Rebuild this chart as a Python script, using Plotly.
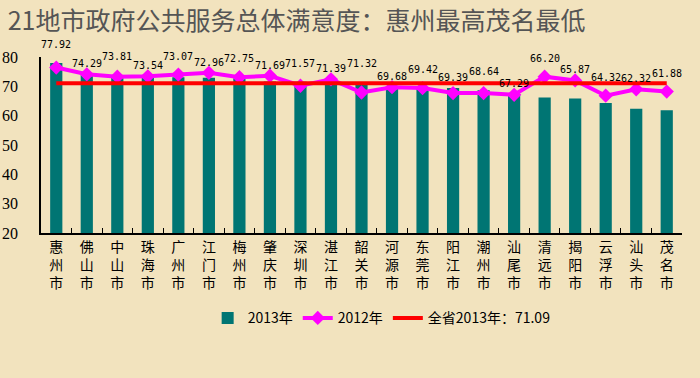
import plotly.graph_objects as go

cities = ["惠州市", "佛山市", "中山市", "珠海市", "广州市", "江门市", "梅州市", "肇庆市", "深圳市", "湛江市",
          "韶关市", "河源市", "东莞市", "阳江市", "潮州市", "汕尾市", "清远市", "揭阳市", "云浮市", "汕头市", "茂名市"]
v2013 = [77.92, 74.29, 73.81, 73.54, 73.07, 72.96, 72.75, 71.69, 71.57, 71.39,
         71.32, 69.68, 69.42, 69.39, 68.64, 67.29, 66.20, 65.87, 64.32, 62.32, 61.88]
v2012 = [76.4, 74.1, 73.3, 73.4, 74.0, 74.6, 73.1, 73.6, 70.2, 72.4,
         67.9, 69.7, 69.4, 67.7, 67.7, 67.1, 73.3, 72.0, 66.8, 69.0, 68.2]
province_avg = 71.09
yticks = [20, 30, 40, 50, 60, 70, 80]

xlabels = ["<br>".join(list(c)) for c in cities]

BG = "rgb(242,227,190)"

fig = go.Figure()
fig.add_trace(go.Bar(
    x=cities, y=v2013, name="2013年",
    marker=dict(color="rgb(0,117,115)", line=dict(width=0)),
    width=0.4,
))
fig.add_trace(go.Scatter(
    x=cities, y=v2012, name="2012年", mode="lines+markers",
    line=dict(color="#FF00FF", width=4),
    marker=dict(symbol="diamond", size=11, color="#FF00FF"),
))
fig.add_trace(go.Scatter(
    x=cities, y=[province_avg] * len(cities), name="全省2013年：71.09", mode="lines",
    line=dict(color="#FF0000", width=4),
))

for i, (c, a, b) in enumerate(zip(cities, v2013, v2012)):
    fig.add_annotation(
        x=c, y=max(a, b), xref="x", yref="y", text=f"{a:.2f}",
        showarrow=False, yanchor="bottom", yshift=11 if i % 2 == 0 else 3,
        font=dict(family="DejaVu Sans Mono", size=10, color="black"),
    )

fig.update_layout(
    width=700, height=378,
    paper_bgcolor=BG, plot_bgcolor=BG,
    margin=dict(l=41, r=18, t=57, b=145, autoexpand=False),
    title=dict(text="21地市政府公共服务总体满意度：惠州最高茂名最低",
               x=0.011, xanchor="left", y=0.945, yanchor="middle",
               font=dict(family="Noto Sans CJK SC", size=25, color="#555555")),
    showlegend=True,
    legend=dict(orientation="h", x=0.26, xanchor="left", y=-0.485, yanchor="middle",
                font=dict(family="Noto Sans CJK SC", size=14, color="black"),
                bgcolor="rgba(0,0,0,0)", itemwidth=30, tracegroupgap=0),
    bargap=0.6,
)
fig.update_xaxes(
    range=[-0.5, len(cities) - 0.5],
    tickmode="array", tickvals=cities, ticktext=xlabels,
    showline=True, linecolor="black", linewidth=1.5,
    ticks="inside", ticklen=5, tickcolor="black", tickson="boundaries",
    tickfont=dict(family="Noto Sans CJK SC", size=14, color="black"),
    showgrid=False, zeroline=False, mirror=False, automargin=False,
)
fig.update_yaxes(
    range=[20, 80], tickvals=yticks,
    showline=True, linecolor="black", linewidth=1.5,
    ticks="", showgrid=False, zeroline=False, automargin=False,
    tickfont=dict(family="Liberation Serif", size=16, color="black"),
    ticklabelstandoff=18,
)

fig.write_html("out.html", config={"displayModeBar": False},
               post_script="document.body.style.margin='0px';")
